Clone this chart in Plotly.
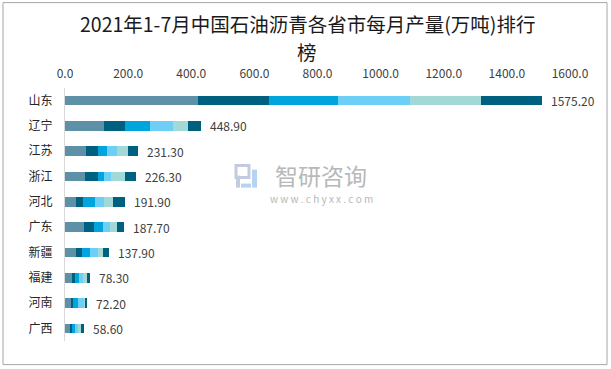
import plotly.graph_objects as go

provinces = ["山东", "辽宁", "江苏", "浙江", "河北", "广东", "新疆", "福建", "河南", "广西"]
month1 = [420.7, 122.7, 66.5, 63.4, 34.9, 60.2, 34.9, 22.2, 19.0, 15.8]
month2 = [225.1, 66.6, 38.1, 41.2, 22.1, 31.7, 19.0, 9.5, 6.3, 9.5]
month3 = [218.7, 79.2, 28.4, 19.0, 38.0, 28.5, 25.3, 12.7, 15.9, 6.3]
month4 = [228.3, 72.9, 31.8, 22.2, 28.6, 22.2, 25.3, 12.6, 19.0, 12.7]
month5 = [225.1, 47.6, 34.8, 44.3, 28.5, 22.2, 15.8, 12.7, 3.2, 6.3]
month6 = [193.4, 41.2, 31.7, 34.9, 38.0, 22.2, 19.0, 9.5, 6.3, 9.5]
totals = [1575.20, 448.90, 231.30, 226.30, 191.90, 187.70, 137.90, 78.30, 72.20, 58.60]
series_names = ["1月", "2月", "3月", "4月", "5月", "6月"]
x_ticks = [0, 200, 400, 600, 800, 1000, 1200, 1400, 1600]
title_lines = ["2021年1-7月中国石油沥青各省市每月产量(万吨)排行", "榜"]

series = [month1, month2, month3, month4, month5, month6]
colors = ["#5e91a8", "#00607f", "#00a5dd", "#6dcff6", "#a2d8d5", "#00607f"]

W, H = 611, 369
PL, PR, PT, PB = 65, 570, 88.4, 341.4

def px(x):
    return (x - PL) / (PR - PL)

def py(y):
    return (PB - y) / (PB - PT)

fig = go.Figure()
for name, vals, col in zip(series_names, series, colors):
    fig.add_trace(go.Bar(
        y=provinces, x=vals, name=name, orientation="h",
        marker=dict(color=col, line=dict(width=0)),
        hoverinfo="x+y+name",
    ))

font_main = "Noto Sans CJK SC, Noto Sans, sans-serif"

annotations = []
sums = [sum(v) for v in zip(*series)]
for p, s, t in zip(provinces, sums, totals):
    annotations.append(dict(
        x=s, y=p, xref="x", yref="y", text=f"{t:.2f}", showarrow=False,
        xanchor="left", yanchor="middle", xshift=7,
        font=dict(size=12, color="#404040", family=font_main),
    ))

# title (two lines)
for line, ty in zip(title_lines, [23.5, 51.5]):
    annotations.append(dict(
        x=px(307), y=py(ty), xref="paper", yref="paper", text=line,
        showarrow=False, xanchor="center", yanchor="middle", borderpad=0,
        font=dict(size=19.5, color="#1a1a1a", family=font_main),
    ))

# watermark
annotations.append(dict(
    x=px(321), y=py(175), xref="paper", yref="paper", text="智研咨询",
    showarrow=False, xanchor="center", yanchor="middle",
    font=dict(size=23, color="#b8b8b8", family=font_main),
))
annotations.append(dict(
    x=px(321), y=py(199), xref="paper", yref="paper",
    text="w w w . c h y x x . c o m",
    showarrow=False, xanchor="center", yanchor="middle",
    font=dict(size=10, color="#b8b8b8", family=font_main),
))

shapes = [
    dict(type="rect", xref="paper", yref="paper",
         x0=px(3), x1=px(607), y0=py(365), y1=py(3),
         line=dict(color="#a6a6a6", width=1), fillcolor="rgba(0,0,0,0)", layer="below"),
    # watermark logo (approximation)
    dict(type="rect", xref="paper", yref="paper",
         x0=px(236), x1=px(249), y0=py(178), y1=py(166),
         line=dict(color="#c3cbe0", width=3), fillcolor="rgba(0,0,0,0)"),
    dict(type="rect", xref="paper", yref="paper",
         x0=px(236), x1=px(240), y0=py(188), y1=py(176),
         line=dict(width=0), fillcolor="#c3cbe0"),
    dict(type="rect", xref="paper", yref="paper",
         x0=px(252), x1=px(257), y0=py(188), y1=py(170),
         line=dict(width=0), fillcolor="#b7d3ef"),
    dict(type="rect", xref="paper", yref="paper",
         x0=px(241), x1=px(251), y0=py(188), y1=py(184),
         line=dict(width=0), fillcolor="#b7d3ef"),
]

fig.update_layout(
    width=W, height=H,
    barmode="stack", bargap=0.62,
    showlegend=False,
    paper_bgcolor="white", plot_bgcolor="white",
    margin=dict(l=PL, r=W - PR, t=PT, b=H - PB, pad=0, autoexpand=False),
    xaxis=dict(
        side="top", range=[0, 1600], tickvals=x_ticks,
        ticktext=[f"{v:.1f}" for v in x_ticks],
        showgrid=False, zeroline=False, showline=False,
        ticks="outside", ticklen=4, tickcolor="rgba(0,0,0,0)",
        tickfont=dict(size=12, color="#404040", family=font_main),
        fixedrange=True, automargin=False,
    ),
    yaxis=dict(
        categoryorder="array", categoryarray=provinces, autorange="reversed",
        showgrid=False, zeroline=False,
        showline=True, linecolor="#d9d9d9", linewidth=1,
        ticks="outside", ticklen=9, tickcolor="rgba(0,0,0,0)",
        tickfont=dict(size=12, color="#262626", family=font_main),
        fixedrange=True, automargin=False,
    ),
    annotations=annotations,
    shapes=shapes,
)

fig.write_html(
    "out.html",
    config={"displayModeBar": False},
    post_script="document.body.style.margin='0';document.body.style.padding='0';",
)
